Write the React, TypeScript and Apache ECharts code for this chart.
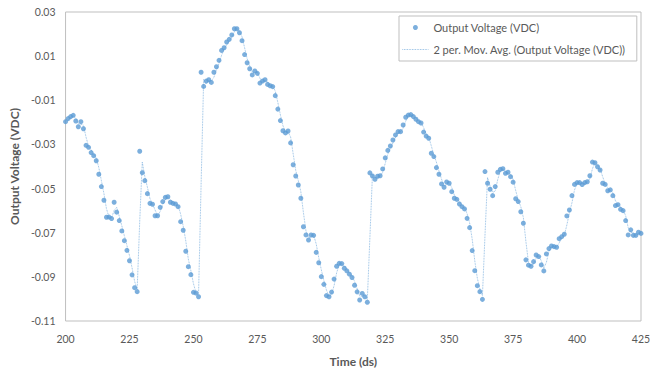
import React, { useEffect, useRef } from "react";
import * as echarts from "echarts";

const times: number[] = [
  200, 201, 202, 203, 204, 205, 206, 207, 208, 209,
  210, 211, 212, 213, 214, 215, 216, 217, 218, 219,
  220, 221, 222, 223, 224, 225, 226, 227, 228, 229,
  230, 231, 232, 233, 234, 235, 236, 237, 238, 239,
  240, 241, 242, 243, 244, 245, 246, 247, 248, 249,
  250, 251, 252, 253, 254, 255, 256, 257, 258, 259,
  260, 261, 262, 263, 264, 265, 266, 267, 268, 269,
  270, 271, 272, 273, 274, 275, 276, 277, 278, 279,
  280, 281, 282, 283, 284, 285, 286, 287, 288, 289,
  290, 291, 292, 293, 294, 295, 296, 297, 298, 299,
  300, 301, 302, 303, 304, 305, 306, 307, 308, 309,
  310, 311, 312, 313, 314, 315, 316, 317, 318, 319,
  320, 321, 322, 323, 324, 325, 326, 327, 328, 329,
  330, 331, 332, 333, 334, 335, 336, 337, 338, 339,
  340, 341, 342, 343, 344, 345, 346, 347, 348, 349,
  350, 351, 352, 353, 354, 355, 356, 357, 358, 359,
  360, 361, 362, 363, 364, 365, 366, 367, 368, 369,
  370, 371, 372, 373, 374, 375, 376, 377, 378, 379,
  380, 381, 382, 383, 384, 385, 386, 387, 388, 389,
  390, 391, 392, 393, 394, 395, 396, 397, 398, 399,
  400, 401, 402, 403, 404, 405, 406, 407, 408, 409,
  410, 411, 412, 413, 414, 415, 416, 417, 418, 419,
  420, 421, 422, 423, 424, 425,
];

const voltages: number[] = [
  // 200-209
  -0.0197, -0.0183, -0.0174, -0.0168, -0.0194, -0.022, -0.0197, -0.0229, -0.0304, -0.0313,
  // 210-219
  -0.0337, -0.0351, -0.0374, -0.0435, -0.0491, -0.0553, -0.063, -0.0629, -0.0636, -0.0562,
  // 220-229
  -0.0607, -0.0645, -0.0692, -0.0736, -0.078, -0.0827, -0.0891, -0.0949, -0.0967, -0.0331,
  // 230-239
  -0.0428, -0.0464, -0.0523, -0.0567, -0.0571, -0.0623, -0.0623, -0.0585, -0.0559, -0.054,
  // 240-249
  -0.0537, -0.0562, -0.0567, -0.057, -0.0582, -0.065, -0.0689, -0.0784, -0.0854, -0.089,
  // 250-259
  -0.097, -0.0973, -0.099, 0.0027, -0.0037, -0.0013, -0.0007, -0.0019, 0.0027, 0.0052,
  // 260-269
  0.0081, 0.0126, 0.0138, 0.0164, 0.0176, 0.0196, 0.0224, 0.0224, 0.0206, 0.017,
  // 270-279
  0.0107, 0.007, 0.0043, 0.0015, 0.0033, 0.0022, -0.0022, -0.0013, -0.0007, -0.0028,
  // 280-289
  -0.0034, -0.0038, -0.0079, -0.014, -0.0192, -0.0238, -0.0248, -0.0239, -0.0293, -0.0392,
  // 290-299
  -0.0443, -0.0484, -0.0544, -0.0673, -0.071, -0.0733, -0.071, -0.0712, -0.0789, -0.0836,
  // 300-309
  -0.0899, -0.0934, -0.0985, -0.099, -0.0969, -0.091, -0.0852, -0.0839, -0.084, -0.0861,
  // 310-319
  -0.0873, -0.0888, -0.0903, -0.0938, -0.0968, -0.1005, -0.0975, -0.099, -0.1015, -0.0429,
  // 320-329
  -0.0443, -0.0458, -0.0444, -0.0442, -0.0411, -0.0361, -0.0327, -0.0307, -0.028, -0.0257,
  // 330-339
  -0.0242, -0.0242, -0.0212, -0.0177, -0.0167, -0.0165, -0.0174, -0.0186, -0.0197, -0.0203,
  // 340-349
  -0.0244, -0.0262, -0.0272, -0.034, -0.0355, -0.0405, -0.0435, -0.0479, -0.0494, -0.047,
  // 350-359
  -0.0476, -0.0514, -0.0544, -0.0549, -0.057, -0.0582, -0.0592, -0.0635, -0.0677, -0.0781,
  // 360-369
  -0.0872, -0.094, -0.0967, -0.1002, -0.0423, -0.0476, -0.0503, -0.0532, -0.0491, -0.0426,
  // 370-379
  -0.0413, -0.041, -0.0431, -0.0426, -0.0446, -0.0471, -0.0546, -0.0559, -0.0605, -0.0657,
  // 380-389
  -0.0823, -0.0847, -0.0852, -0.0831, -0.0801, -0.0808, -0.0846, -0.0873, -0.0796, -0.0772,
  // 390-399
  -0.076, -0.0763, -0.0766, -0.0727, -0.0718, -0.0707, -0.0624, -0.0597, -0.0532, -0.0481,
  // 400-409
  -0.0473, -0.0473, -0.0482, -0.0473, -0.0469, -0.0442, -0.038, -0.0383, -0.0401, -0.0416,
  // 410-419
  -0.0476, -0.0481, -0.051, -0.0506, -0.0532, -0.0577, -0.0573, -0.0594, -0.06, -0.0645,
  // 420-425
  -0.071, -0.0687, -0.0712, -0.0712, -0.0698, -0.0703,
];

const SERIES_NAME = "Output Voltage (VDC)";
const TREND_NAME = "2 per. Mov. Avg. (Output Voltage (VDC))";
const X_TITLE = "Time (ds)";
const Y_TITLE = "Output Voltage (VDC)";

const FONT = "Lato, 'Open Sans', sans-serif";
const BLUE = "#5B9BD5";
const TEXT = "#595959";

export default function App() {
  const ref = useRef<HTMLDivElement>(null);

  useEffect(() => {
    if (!ref.current) return;
    const chart = echarts.init(ref.current, undefined, { renderer: "svg" });

    const points = times.map((t, i) => [t, voltages[i]]);
    // Excel-style 2-period moving average trendline of the plotted values
    const trend = times.slice(1).map((t, i) => [t, (voltages[i] + voltages[i + 1]) / 2]);

    chart.setOption({
      animation: false,
      backgroundColor: "#ffffff",
      textStyle: { fontFamily: FONT },
      grid: {
        left: 63,
        right: 18,
        top: 12,
        bottom: 51,
        show: true,
        borderColor: "#BFBFBF",
        borderWidth: 1,
        backgroundColor: "transparent",
      },
      legend: {
        orient: "vertical",
        left: 399,
        top: 16,
        padding: [6, 11, 6, 3],
        itemGap: 11,
        itemWidth: 26,
        itemHeight: 5,
        borderColor: "#BFBFBF",
        borderWidth: 1,
        backgroundColor: "#ffffff",
        textStyle: { color: TEXT, fontSize: 11, fontFamily: FONT },
        data: [
          { name: SERIES_NAME, icon: "circle" },
          {
            name: TREND_NAME,
            itemStyle: { opacity: 0 },
            lineStyle: { color: BLUE, width: 0.8, type: "dotted", opacity: 0.85 },
          },
        ],
      },
      xAxis: {
        type: "value",
        min: 200,
        max: 425,
        interval: 25,
        name: X_TITLE,
        nameLocation: "middle",
        nameGap: 34,
        nameTextStyle: { color: TEXT, fontSize: 12, fontWeight: "bold", fontFamily: FONT },
        axisLine: { show: false },
        axisTick: { show: false },
        splitLine: { show: false },
        axisLabel: { color: TEXT, fontSize: 10.5, margin: 12, fontFamily: FONT },
      },
      yAxis: {
        type: "value",
        min: -0.11,
        max: 0.03,
        interval: 0.02,
        name: Y_TITLE,
        nameLocation: "middle",
        nameRotate: 90,
        nameGap: 44,
        nameTextStyle: { color: TEXT, fontSize: 12, fontWeight: "bold", fontFamily: FONT },
        axisLine: { show: false },
        axisTick: { show: false },
        splitLine: { show: false },
        axisLabel: {
          color: TEXT,
          fontSize: 10.5,
          margin: 10,
          fontFamily: FONT,
          formatter: (v: number) => v.toFixed(2),
        },
      },
      series: [
        {
          name: SERIES_NAME,
          type: "scatter",
          data: points,
          symbol: "circle",
          symbolSize: 5,
          itemStyle: { color: BLUE },
          z: 3,
        },
        {
          name: TREND_NAME,
          type: "line",
          data: trend,
          showSymbol: false,
          symbol: "none",
          lineStyle: { color: BLUE, width: 0.8, type: "dotted", opacity: 0.85 },
          itemStyle: { color: BLUE },
          z: 2,
        },
      ],
    });

    return () => chart.dispose();
  }, []);

  return (
    <div
      ref={ref}
      style={{ position: "absolute", left: 0, top: 0, width: 659, height: 372 }}
    />
  );
}
